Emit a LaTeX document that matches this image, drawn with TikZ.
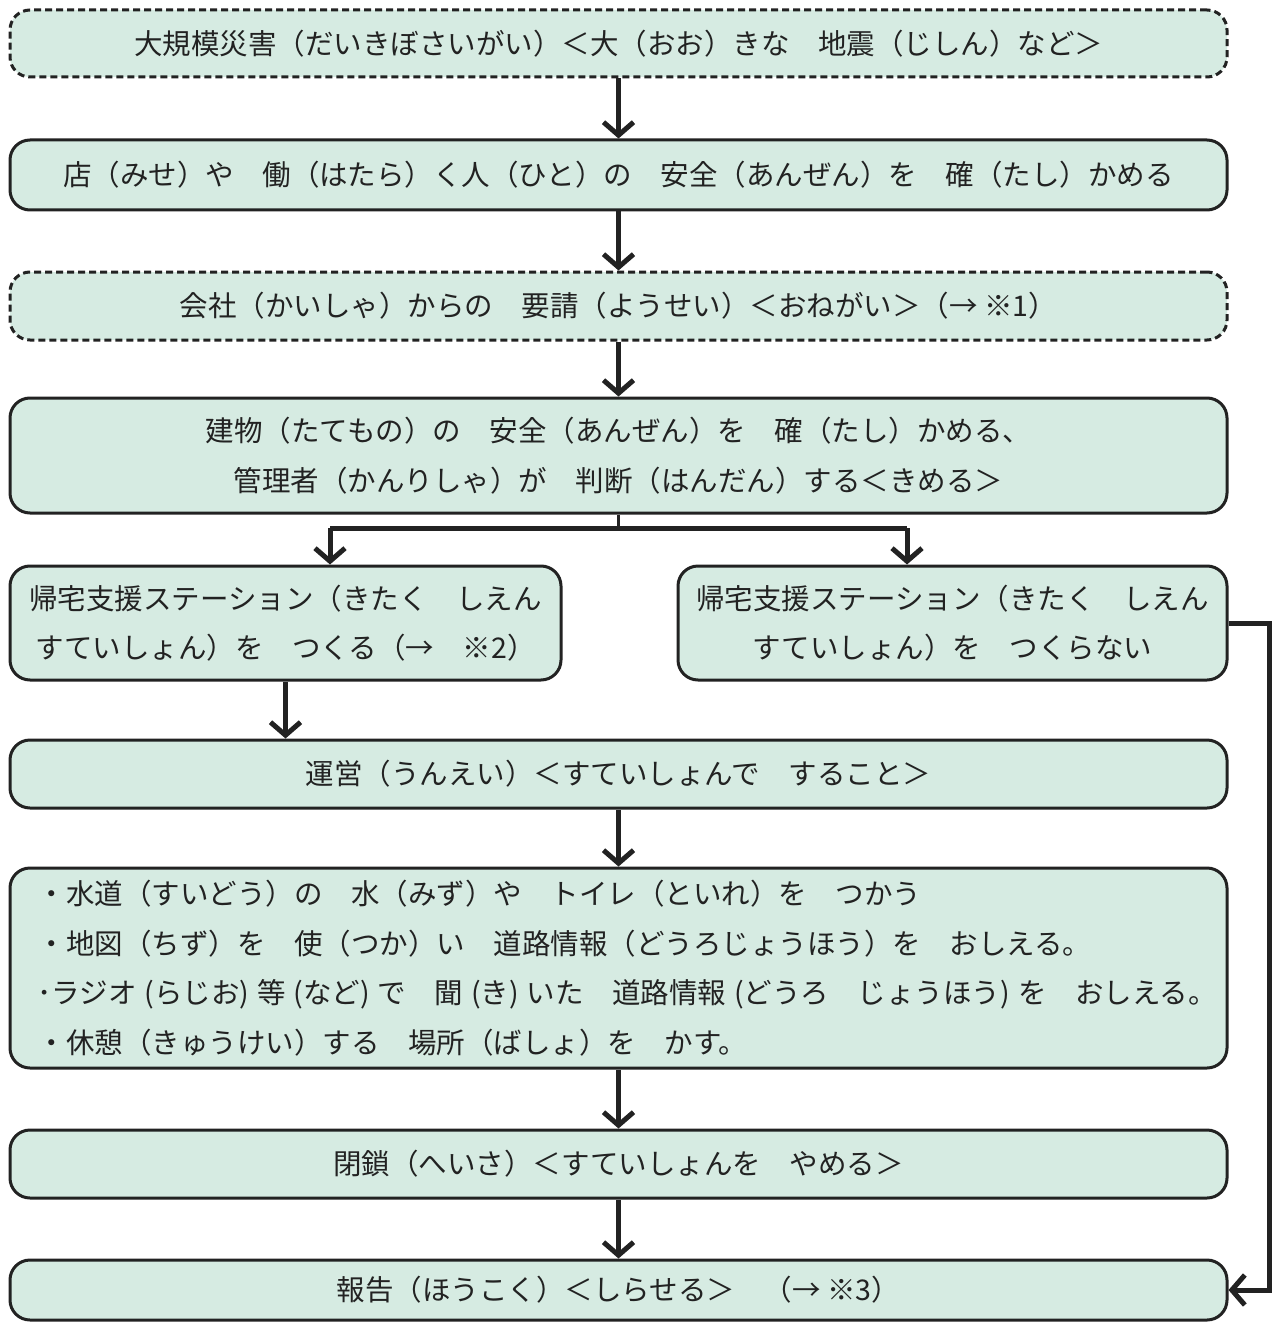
\documentclass[tikz,border=0pt]{standalone}
\usepackage{fontspec}
\setmainfont{Noto Sans CJK JP}
\usetikzlibrary{arrows.meta}
\definecolor{boxfill}{HTML}{D6EBE2}
\definecolor{ink}{HTML}{222222}
\begin{document}
\begin{tikzpicture}[x=1pt,y=-1pt,
  box/.style={draw=ink, fill=boxfill, line width=3pt, rounded corners=20pt,
    text=ink, font=\fontsize{28.5}{49.5}\selectfont, inner sep=0pt},
  dbox/.style={box, dash pattern=on 7pt off 4pt},
  arr/.style={draw=ink, line width=5pt, -{Straight Barb[length=13pt,width=30pt]}},
  ln/.style={draw=ink, line width=5pt}]
\useasboundingbox (0,0) rectangle (1272,1324);
\node[dbox, minimum width=1217pt, minimum height=67pt] (b1) at (618.5,43.5)
  {大規模災害（だいきぼさいがい）＜大（おお）きな　地震（じしん）など＞};
\node[box, minimum width=1217pt, minimum height=70pt] (b2) at (618.5,175)
  {店（みせ）や　働（はたら）く人（ひと）の　安全（あんぜん）を　確（たし）かめる};
\node[dbox, minimum width=1217pt, minimum height=68pt] (b3) at (618.5,306)
  {会社（かいしゃ）からの　要請（ようせい）＜おねがい＞（→ ※1）};
\node[box, minimum width=1217pt, minimum height=115pt, align=center] (b4) at (618.5,455.5)
  {建物（たてもの）の　安全（あんぜん）を　確（たし）かめる、\\管理者（かんりしゃ）が　判断（はんだん）する＜きめる＞};
\node[box, minimum width=551pt, minimum height=114pt, align=center] (b5) at (285.5,623)
  {帰宅支援ステーション（きたく　しえん\\すていしょん）を　つくる（→　※2）};
\node[box, minimum width=549pt, minimum height=114pt, align=center] (b6) at (952.5,623)
  {帰宅支援ステーション（きたく　しえん\\すていしょん）を　つくらない};
\node[box, minimum width=1217pt, minimum height=68pt] (b7) at (618.5,774)
  {運営（うんえい）＜すていしょんで　すること＞};
\node[box, minimum width=1217pt, minimum height=200pt, align=left, text width=1162pt] (b8) at (618.5,968)
  {・水道（すいどう）の　水（みず）や　トイレ（といれ）を　つかう\\
   ・地図（ちず）を　使（つか）い　道路情報（どうろじょうほう）を　おしえる。\\
   ･ラジオ\;(らじお)\;等\;(など)\;で　聞\;(き)\;いた　道路情報\;(どうろ　じょうほう)\;を　おしえる。\\
   ・休憩（きゅうけい）する　場所（ばしょ）を　かす。};
\node[box, minimum width=1217pt, minimum height=68pt] (b9) at (618.5,1164)
  {閉鎖（へいさ）＜すていしょんを　やめる＞};
\node[box, minimum width=1217pt, minimum height=60pt] (b10) at (618.5,1290)
  {報告（ほうこく）＜しらせる＞　（→ ※3）};
\draw[arr] (b1.south) -- (b2.north);
\draw[arr] (b2.south) -- (b3.north);
\draw[arr] (b3.south) -- (b4.north);
\coordinate (j) at (618.5,528);
\coordinate (jl) at (330,528);
\coordinate (jr) at (907,528);
\draw[draw=ink, line width=3.5pt] (b4.south) -- (j);
\draw[ln] (jl) -- (jr);
\draw[arr] (jl) -- (jl |- b5.north);
\draw[arr] (jr) -- (jr |- b6.north);
\draw[arr] (b5.south) -- (b5.south |- b7.north);
\draw[arr] (b7.south) -- (b8.north);
\draw[arr] (b8.south) -- (b9.north);
\draw[arr] (b9.south) -- (b10.north);
\draw[arr] (b6.east) -- ++(41,0) |- (b10.east);
\end{tikzpicture}
\end{document}
